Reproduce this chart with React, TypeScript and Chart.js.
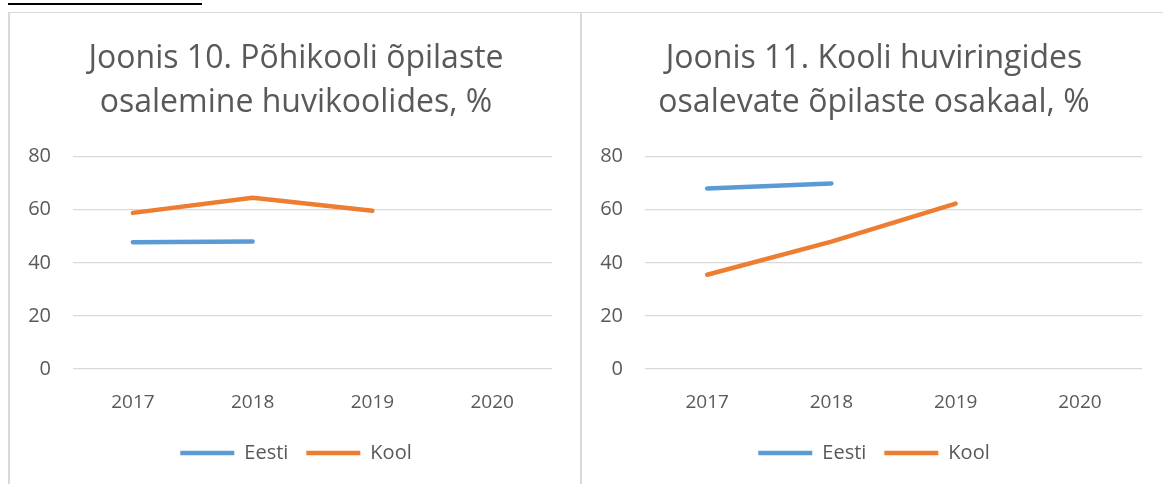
import React, { useEffect, useRef } from "react";
import { Chart, registerables } from "chart.js";

Chart.register(...registerables);

const categories = ["2017", "2018", "2019", "2020"];
const seriesNames = ["Eesti", "Kool"];

const title10 = ["Joonis 10. Põhikooli õpilaste", "osalemine huvikoolides, %"];
const eesti10 = [47.7, 48.0, null, null];
const kool10 = [58.8, 64.5, 59.6, null];

const title11 = ["Joonis 11. Kooli huviringides", "osalevate õpilaste osakaal, %"];
const eesti11 = [68.0, 69.9, null, null];
const kool11 = [35.5, 48.0, 62.3, null];

const yTicks = [0, 20, 40, 60, 80];

const BLUE = "#5b9bd5";
const ORANGE = "#ed7d31";
const TEXT = "#595959";
const GRID = "#d9d9d9";
const FONT = "'Open Sans', 'Noto Sans', sans-serif";

function LineChart(props: any) {
  const ref = useRef<HTMLCanvasElement | null>(null);
  useEffect(() => {
    if (!ref.current) return;
    const chart = new Chart(ref.current, {
      type: "line",
      data: {
        labels: categories,
        datasets: [
          {
            label: seriesNames[0],
            data: props.eesti,
            borderColor: BLUE,
            backgroundColor: BLUE,
            borderWidth: 4.5,
            borderCapStyle: "round",
            borderJoinStyle: "round",
            pointRadius: 0,
            pointHoverRadius: 0,
            tension: 0,
            spanGaps: false,
            yAxisID: "y",
          },
          {
            label: seriesNames[1],
            data: props.kool,
            borderColor: ORANGE,
            backgroundColor: ORANGE,
            borderWidth: 4.5,
            borderCapStyle: "round",
            borderJoinStyle: "round",
            pointRadius: 0,
            pointHoverRadius: 0,
            tension: 0,
            spanGaps: false,
            yAxisID: "y",
          },
        ],
      },
      options: {
        animation: false,
        responsive: false,
        maintainAspectRatio: false,
        devicePixelRatio: 1,
        layout: {
          padding: { left: props.pl, right: props.pr, top: 0, bottom: 11 },
        },
        plugins: {
          title: {
            display: true,
            text: props.title,
            color: TEXT,
            font: { family: FONT, size: 32, weight: "normal", lineHeight: 1.4 },
            padding: { top: 23, bottom: 31 },
          },
          legend: {
            display: true,
            position: "bottom",
            labels: {
              color: TEXT,
              font: { family: FONT, size: 20 },
              usePointStyle: true,
              pointStyle: "line",
              pointStyleWidth: 54,
              boxHeight: 20,
              padding: 18,
            },
          },
          tooltip: { enabled: false },
        },
        scales: {
          x: {
            offset: true,
            grid: { display: false, drawTicks: false },
            border: { display: false },
            ticks: {
              color: TEXT,
              font: { family: FONT, size: 19 },
              padding: 22,
              maxRotation: 0,
            },
            afterFit: (axis: any) => {
              axis.height = 56;
            },
          },
          y: {
            position: "left",
            min: 0,
            max: 80,
            afterBuildTicks: (axis: any) => {
              axis.ticks = yTicks.map((v) => ({ value: v }));
            },
            afterFit: (axis: any) => {
              axis.width = props.axisW;
            },
            grid: { color: GRID, lineWidth: 1.3, drawTicks: false },
            border: { display: false },
            ticks: {
              color: TEXT,
              font: { family: FONT, size: 20 },
              padding: 22,
            },
          },
          yPad: {
            position: "right",
            min: 0,
            max: 80,
            grid: { display: false, drawTicks: false },
            border: { display: false },
            ticks: { display: false },
            afterFit: (axis: any) => {
              axis.width = props.rightW;
            },
          },
        },
      },
    } as any);
    return () => chart.destroy();
  }, []);
  return <canvas ref={ref} width={props.w} height={471} style={{ display: "block" }} />;
}

export default function App() {
  return (
    <div
      style={{
        position: "fixed",
        left: 0,
        top: 0,
        width: 1163,
        height: 484,
        background: "#ffffff",
        overflow: "hidden",
      }}
    >
      <div style={{ position: "absolute", left: 8, top: 3, width: 194, height: 2, background: "#000" }} />
      <div style={{ position: "absolute", left: 8, top: 12, width: 1155, height: 1, background: GRID }} />
      <div style={{ position: "absolute", left: 8, top: 12, width: 2, height: 472, background: GRID }} />
      <div style={{ position: "absolute", left: 580, top: 12, width: 2, height: 472, background: GRID }} />
      <div style={{ position: "absolute", left: 10, top: 13 }}>
        <LineChart title={title10} eesti={eesti10} kool={kool10} pl={16} pr={14} axisW={47} rightW={14} w={570} />
      </div>
      <div style={{ position: "absolute", left: 582, top: 13 }}>
        <LineChart title={title11} eesti={eesti11} kool={kool11} pl={14} pr={11} axisW={49} rightW={10} w={581} />
      </div>
    </div>
  );
}
